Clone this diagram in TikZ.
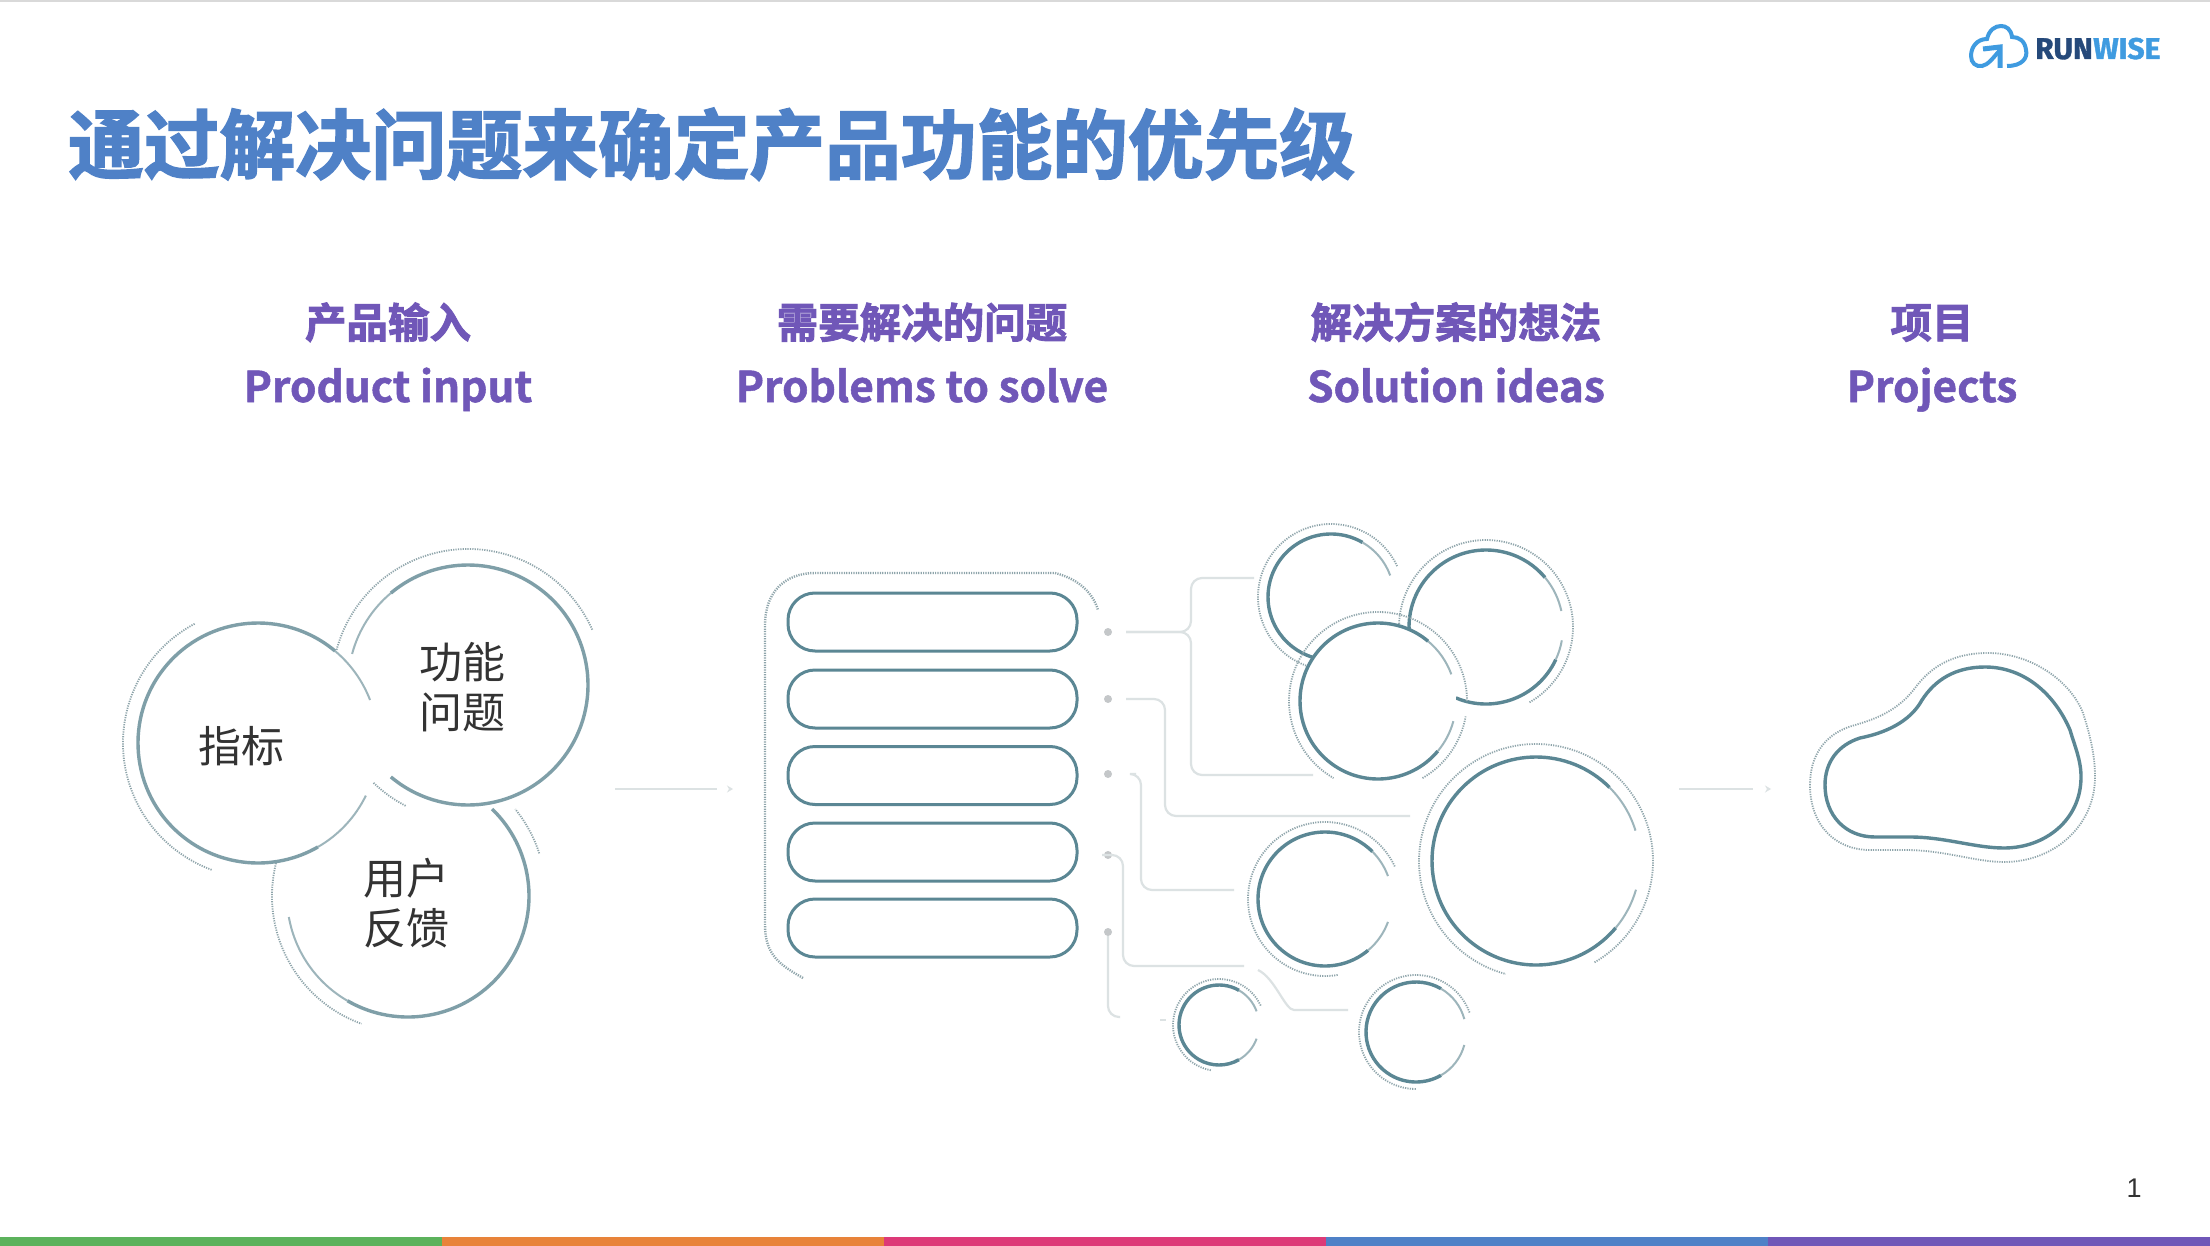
\documentclass[tikz,border=0pt]{standalone}
\usepackage{xcolor}
\usepackage{fontspec}
\usetikzlibrary{arrows.meta,positioning,calc}
\setmainfont{Noto Sans CJK SC}
\newfontfamily\headfont[BoldFont=*,BoldFeatures={FakeBold=2.2}]{Noto Sans CJK SC Bold}
\newfontfamily\enfont[BoldFont=*,BoldFeatures={FakeBold=1.2}]{Noto Sans CJK SC Bold}
\newfontfamily\logofont[BoldFont=*,BoldFeatures={FakeBold=1.2}]{Fira Sans Bold}
\newfontfamily\pagefont{Liberation Sans}
\definecolor{TitleBlue}{HTML}{4F81C7}
\definecolor{HeadPurple}{HTML}{7057B8}
\definecolor{BodyInk}{HTML}{333333}
\definecolor{RingDark}{HTML}{5B8794}
\definecolor{RingMid}{HTML}{7F9FA8}
\definecolor{RingSoft}{HTML}{9DB5BB}
\definecolor{RingOuter}{HTML}{8FA5AB}
\definecolor{LinkGrey}{HTML}{DCE2E3}
\definecolor{DotGrey}{HTML}{C4C7C9}
\definecolor{BarGreen}{HTML}{5CB25C}
\definecolor{BarOrange}{HTML}{E8833A}
\definecolor{BarPink}{HTML}{DD3A78}
\definecolor{LogoDark}{HTML}{25497A}
\definecolor{LogoLight}{HTML}{3F9BE0}
\tikzset{
  disc/.style={circle,fill=white,inner sep=0pt},
  pill/.style={rectangle,rounded corners=27pt,draw=RingDark,line width=3pt,
               minimum width=289pt,minimum height=58pt,inner sep=0pt},
  main/.style={RingDark,line width=3.4pt},
  mainL/.style={RingMid,line width=3.4pt},
  soft/.style={RingSoft,line width=2pt},
  halo/.style={RingOuter,line width=1.8pt,dash pattern=on 1.2pt off 1.2pt},
  link/.style={LinkGrey,line width=2.2pt,rounded corners=11pt},
  flow/.style={LinkGrey,line width=2.2pt},
  dot/.style={circle,fill=DotGrey,inner sep=0pt,minimum size=8pt},
  hdCn/.style={font=\headfont\fontsize{41.5}{42}\selectfont\bfseries,text=HeadPurple,anchor=base},
  hdEn/.style={font=\enfont\fontsize{42.4}{43}\selectfont\bfseries,text=HeadPurple,anchor=base},
  body/.style={font=\fontsize{43}{50}\selectfont,text=BodyInk,align=center}
}
% angles as seen on the page, the y axis runs downwards
\newcommand{\ringarc}[5]{\draw[#1] ($(#2)+({-#4}:#3)$) arc[start angle={-#4},end angle={-#5},radius=#3];}
\begin{document}
\begin{tikzpicture}[x=1pt,y=-1pt]
  \useasboundingbox (0,0) rectangle (2210,1246);
  \fill[white] (0,0) rectangle (2210,1246);
  \fill[black!15] (0,0) rectangle (2210,2);

  % title and logo
  \node[font=\headfont\fontsize{75.7}{76}\selectfont\bfseries,text=TitleBlue,anchor=base west,inner sep=0pt] (title) at (68,173) {通过解决问题来确定产品功能的优先级};
  \node[font=\logofont\fontsize{30}{30}\selectfont\bfseries,text=LogoDark,anchor=base west,inner sep=0pt] (logoRun) at (2035,59) {RUN};
  \node[font=\logofont\fontsize{30}{30}\selectfont\bfseries,text=LogoLight,anchor=base west,inner sep=0pt] (logoWise) at (logoRun.base east) {WISE};
  \draw[LogoLight,line width=4pt] (2007,66) .. controls (2022,66) and (2028,58) .. (2026,50)
    .. controls (2025,41) and (2019,37) .. (2012,37) .. controls (2011,29) and (2006,26) .. (2001,26)
    .. controls (1995,26) and (1989,30) .. (1987,39) .. controls (1977,39) and (1971,47) .. (1971,56)
    .. controls (1971,63) and (1976,67) .. (1982,66) .. controls (1988,65) and (1993,58) .. (2000,50);
  \draw[LogoLight,line width=5pt] (1983,49) -- (2000,47) -- (2000,68);

  % column heads
  \node[hdCn] (headA) at (388,338) {产品输入};
  \node[hdEn] (enA) at (388,402) {Product input};
  \node[hdCn] (headB) at (922,338) {需要解决的问题};
  \node[hdEn] (enB) at (922,402) {Problems to solve};
  \node[hdCn] (headC) at (1456,338) {解决方案的想法};
  \node[hdEn] (enC) at (1456,402) {Solution ideas};
  \node[hdCn] (headD) at (1932,338) {项目};
  \node[hdEn] (enD) at (1932,402) {Projects};

  % three input circles
  \node[disc,minimum size=242pt] (cUser) at (408,896) {};
  \ringarc{soft}{cUser}{121}{190}{240}
  \ringarc{mainL}{cUser}{121}{240}{406}
  \ringarc{halo}{cUser}{136}{166}{250}
  \ringarc{halo}{cUser}{138}{18}{39}
  \node[disc,minimum size=240pt] (cFunc) at (468,685) {};
  \ringarc{soft}{cFunc}{120}{130}{165}
  \ringarc{mainL}{cFunc}{120}{230}{490}
  \ringarc{halo}{cFunc}{136}{24}{165}
  \ringarc{halo}{cFunc}{136}{226}{243}
  \node[disc,minimum size=240pt] (cMetric) at (258,743) {};
  \ringarc{mainL}{cMetric}{120}{50}{300}
  \ringarc{soft}{cMetric}{120}{21}{50}
  \ringarc{soft}{cMetric}{120}{300}{334}
  \ringarc{halo}{cMetric}{135}{118}{250}
  \node[body] (tMetric) at (241,746) {指标};
  \node[body] (tFunc) at (462,687) {功能\\问题};
  \node[body] (tUser) at (406,903) {用户\\反馈};

  \coordinate (flowAs) at (615,789);
  \coordinate (flowAe) at (717,789);
  \coordinate (flowAt) at (733,789);
  \draw[flow] (flowAs) -- (flowAe);
  \draw[flow,-{Stealth[length=6pt,width=7pt]}] ($(flowAt)+(-2,0)$) -- (flowAt);

  % problem list
  \draw[halo,line width=2.4pt] (803,978) .. controls (780,965) and (765,955) .. (765,925) -- (765,625)
    .. controls (765,592) and (785,573) .. (815,573) -- (1055,573) .. controls (1075,578) and (1092,590) .. (1098,610);
  \foreach \nm/\yy in {pA/622,pB/699,pC/775.5,pD/852,pE/928}
    \node[pill] (\nm) at (932.5,\yy) {};
  \foreach \nm/\yy in {dA/632,dB/699,dC/774,dD/855,dE/932}
    \node[dot] (\nm) at (1108,\yy) {};

  % solution circles
  \node[disc,minimum size=126pt] (sA) at (1331,597) {};
  \ringarc{main}{sA}{63}{60}{253}
  \ringarc{soft}{sA}{63}{20}{60}
  \ringarc{halo}{sA}{73}{25}{250}
  \node[disc,minimum size=154pt] (sB) at (1486,627) {};
  \ringarc{main}{sB}{77}{40}{182}
  \ringarc{soft}{sB}{77}{12}{40}
  \ringarc{main}{sB}{77}{247}{335}
  \ringarc{soft}{sB}{77}{335}{350}
  \ringarc{halo}{sB}{87}{300}{540}
  \node[disc,minimum size=156pt] (sC) at (1378,701) {};
  \ringarc{main}{sC}{78}{50}{320}
  \ringarc{soft}{sC}{78}{20}{50}
  \ringarc{soft}{sC}{78}{320}{345}
  \ringarc{halo}{sC}{89}{0}{240}
  \ringarc{halo}{sC}{89}{300}{350}
  \node[disc,minimum size=208pt] (sD) at (1536,861) {};
  \ringarc{main}{sD}{104}{45}{320}
  \ringarc{soft}{sD}{104}{17}{45}
  \ringarc{soft}{sD}{104}{320}{344}
  \ringarc{halo}{sD}{117}{300}{615}
  \node[disc,minimum size=134pt] (sE) at (1325,899) {};
  \ringarc{main}{sE}{67}{45}{310}
  \ringarc{soft}{sE}{67}{20}{45}
  \ringarc{soft}{sE}{67}{310}{340}
  \ringarc{halo}{sE}{77}{25}{280}
  \node[disc,minimum size=80pt] (sF) at (1219,1025) {};
  \ringarc{main}{sF}{40}{60}{300}
  \ringarc{soft}{sF}{40}{20}{60}
  \ringarc{soft}{sF}{40}{300}{340}
  \ringarc{halo}{sF}{46}{25}{260}
  \node[disc,minimum size=100pt] (sG) at (1416,1032) {};
  \ringarc{main}{sG}{50}{60}{300}
  \ringarc{soft}{sG}{50}{15}{60}
  \ringarc{soft}{sG}{50}{300}{345}
  \ringarc{halo}{sG}{57}{20}{270}

  % links from the list to the circles
  \coordinate (eA) at (1254,578);
  \coordinate (eB) at (1313,775);
  \coordinate (eC) at (1410,816);
  \coordinate (eD) at (1234,890);
  \coordinate (eE) at (1244,966);
  \coordinate (eF) at (1348,1010);
  \coordinate (eG) at (1120,1017);
  \coordinate (eH) at (1166,1020);
  \draw[link,shorten <=14pt] (dA) -- (1191,632) |- (eA);
  \draw[link,shorten <=14pt] (dA) -- (1191,632) |- (eB);
  \draw[link,shorten <=14pt] (dB) -| (1165,760) |- (eC);
  \draw[link,shorten <=24pt] (dC) -| (1141,860) |- (eD);
  \draw[link,shorten <=10pt] (dD) -| (1123,930) |- (eE);
  \draw[link] (1258,970) .. controls (1275,978) and (1285,1010) .. (1305,1010) -- (eF);
  \draw[link] (dE) |- (eG);
  \draw[link] (1160,1020) -- (eH);

  \coordinate (flowBs) at (1679,789);
  \coordinate (flowBe) at (1753,789);
  \coordinate (flowBt) at (1771,789);
  \draw[flow] (flowBs) -- (flowBe);
  \draw[flow,-{Stealth[length=6pt,width=7pt]}] ($(flowBt)+(-2,0)$) -- (flowBt);

  % project blob
  \draw[halo] (1810,785) .. controls (1810,755) and (1825,733) .. (1855,725)
    .. controls (1880,718) and (1900,708) .. (1915,688) .. controls (1932,665) and (1955,653) .. (1988,653)
    .. controls (2030,653) and (2070,680) .. (2083,713) .. controls (2090,735) and (2095,755) .. (2095,777)
    .. controls (2095,825) and (2055,862) .. (2004,862) .. controls (1975,862) and (1945,850) .. (1905,850)
    -- (1870,850) .. controls (1835,850) and (1810,825) .. (1810,785) -- cycle;
  \draw[main] (1825,785) .. controls (1825,762) and (1838,745) .. (1860,738)
    .. controls (1885,733) and (1910,722) .. (1922,700) .. controls (1935,680) and (1955,667) .. (1985,667)
    .. controls (2025,667) and (2055,695) .. (2070,730) .. controls (2075,747) and (2081,760) .. (2081,777)
    .. controls (2081,820) and (2045,848) .. (2004,848) .. controls (1975,848) and (1945,837) .. (1910,837)
    -- (1875,837) .. controls (1845,837) and (1825,815) .. (1825,785) -- cycle;

  % page number and colour bar
  \node[font=\pagefont\fontsize{27}{27}\selectfont,text=BodyInk] (pageNo) at (2134,1188) {1};
  \fill[BarGreen] (0,1237) rectangle (442,1246);
  \fill[BarOrange] (442,1237) rectangle (884,1246);
  \fill[BarPink] (884,1237) rectangle (1326,1246);
  \fill[TitleBlue] (1326,1237) rectangle (1768,1246);
  \fill[HeadPurple] (1768,1237) rectangle (2210,1246);
\end{tikzpicture}
\end{document}
